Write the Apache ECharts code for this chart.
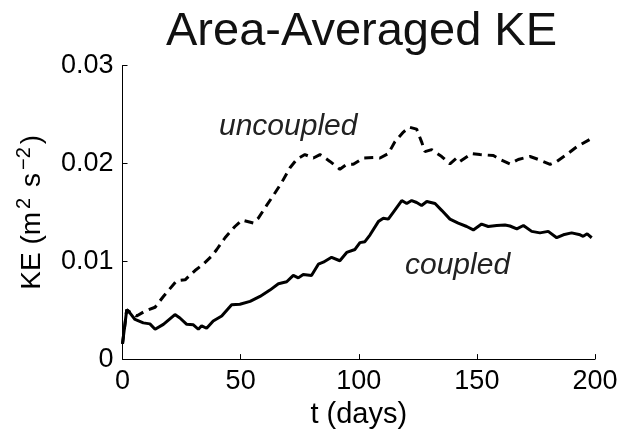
<!DOCTYPE html>
<html>
<head>
<meta charset="utf-8">
<script src="https://cdn.jsdelivr.net/npm/echarts@6/dist/echarts.min.js"></script>
<style>html,body{margin:0;padding:0;background:#fff;}#c{width:625px;height:434px;}</style>
</head>
<body>
<div id="c"></div>
<script>
var titleText = 'Area-Averaged KE';
var xTicks = [0, 50, 100, 150, 200];
var yTicks = [0, 0.01, 0.02, 0.03];
var coupledT = [0, 1.8, 3.2, 5.3, 8.8, 11.6, 13.8, 17.3, 22.2, 24.3, 27.2, 30, 32.1, 33.5, 35.6, 38.4, 42, 46.2, 49.7, 54, 58.2, 62.4, 66, 69.5, 72.3, 74.4, 76.5, 80, 82.9, 85, 88.5, 92, 94.9, 98.4, 100.5, 102.6, 104.8, 108.3, 110.4, 112.5, 114.6, 118.2, 120.3, 122.4, 124.5, 126.6, 128.8, 132.3, 135.1, 138.6, 142.1, 145.7, 148.5, 152, 154.8, 158.4, 161.9, 164, 166.9, 169.7, 173.2, 176.7, 180.2, 183.8, 186.6, 190.1, 193.7, 195, 196.7, 198.6];
var coupledKE = [0.00155, 0.00505, 0.0047, 0.00405, 0.0037, 0.0036, 0.00305, 0.00355, 0.00455, 0.0042, 0.00355, 0.0035, 0.00305, 0.0034, 0.00315, 0.0039, 0.0044, 0.00555, 0.0056, 0.0059, 0.0064, 0.00705, 0.0077, 0.0079, 0.00855, 0.0083, 0.00865, 0.00855, 0.0097, 0.0099, 0.0104, 0.01005, 0.0109, 0.0112, 0.0119, 0.012, 0.0127, 0.01405, 0.0144, 0.0143, 0.015, 0.0162, 0.0159, 0.0162, 0.016, 0.0157, 0.0161, 0.0159, 0.0152, 0.0143, 0.0139, 0.01355, 0.0132, 0.0138, 0.01355, 0.01365, 0.0137, 0.0136, 0.0133, 0.01365, 0.01305, 0.0129, 0.01305, 0.0124, 0.0127, 0.0129, 0.0127, 0.01255, 0.0128, 0.0124];
var uncoupledT = [0, 1.8, 3.2, 6, 9.5, 13.8, 17.3, 20.1, 22.9, 26.5, 30.7, 34.2, 37.8, 39.9, 43.4, 47.6, 50.5, 55.4, 57.5, 61, 63.8, 67.4, 70.9, 73.7, 77.2, 80.8, 83.6, 87.8, 92, 94.9, 97.7, 101.9, 106.9, 109, 112.5, 115.3, 118.9, 121.4, 124.5, 126.6, 128, 130.9, 135.1, 138.6, 141.5, 142.9, 147.8, 151.3, 157, 159.8, 164, 167.5, 172.5, 176, 181, 183.8, 188, 192.3, 198.6];
var uncoupledKE = [0.00155, 0.00505, 0.0048, 0.0044, 0.0049, 0.0053, 0.0064, 0.0072, 0.008, 0.0081, 0.00905, 0.0097, 0.01055, 0.0112, 0.0124, 0.01355, 0.0142, 0.0139, 0.0144, 0.0157, 0.0167, 0.01805, 0.01955, 0.0204, 0.0209, 0.02055, 0.0209, 0.0202, 0.0194, 0.0199, 0.0199, 0.02055, 0.0206, 0.02055, 0.021, 0.0222, 0.0232, 0.0237, 0.0235, 0.0222, 0.0212, 0.0214, 0.0207, 0.01995, 0.02055, 0.0202, 0.021, 0.0209, 0.0208, 0.0204, 0.01995, 0.0204, 0.0207, 0.0204, 0.0199, 0.0202, 0.0209, 0.0217, 0.02255];
var labelUncoupled = 'uncoupled';
var labelCoupled = 'coupled';

function pairs(t, v) { return t.map(function (x, i) { return [x, v[i]]; }); }

var FONT = '"Liberation Sans", Arial, Helvetica, sans-serif';
var chart = echarts.init(document.getElementById('c'), null, {renderer: 'canvas'});
chart.setOption({
  animation: false,
  backgroundColor: '#ffffff',
  title: {
    text: titleText,
    left: 161, top: 4,
    textStyle: {fontFamily: FONT, fontSize: 47, fontWeight: 'normal', color: '#111'}
  },
  grid: {left: 122.5, right: 30, top: 65.5, bottom: 68.5, containLabel: false},
  xAxis: {
    type: 'value', min: xTicks[0], max: xTicks[xTicks.length - 1], interval: 50,
    name: 't (days)', nameLocation: 'middle', nameGap: 32,
    nameTextStyle: {fontFamily: FONT, fontSize: 29, color: '#000'},
    axisLine: {show: true, lineStyle: {color: '#000', width: 1}},
    axisTick: {show: true, inside: true, length: 5, lineStyle: {color: '#000'}},
    axisLabel: {fontFamily: FONT, fontSize: 27, color: '#000', margin: 9},
    splitLine: {show: false}
  },
  yAxis: {
    type: 'value', min: yTicks[0], max: yTicks[yTicks.length - 1], interval: 0.01,
    name: 'KE (m{sup|2} s{sup|−2})', nameLocation: 'middle', nameGap: 73, nameRotate: 90,
    nameTextStyle: {fontFamily: FONT, fontSize: 28, color: '#000',
      rich: {sup: {fontFamily: FONT, fontSize: 20, color: '#000', padding: [0, 3, 15, 3]}}},
    axisLine: {show: true, lineStyle: {color: '#000', width: 1}},
    axisTick: {show: true, inside: true, length: 5, lineStyle: {color: '#000'}},
    axisLabel: {fontFamily: FONT, fontSize: 27, color: '#000', margin: 9,
      formatter: function (v) { return v === 0 ? '0' : (+v.toFixed(2)).toString(); }},
    splitLine: {show: false}
  },
  graphic: [
    {type: 'text', left: 219, top: 112, style: {text: labelUncoupled, font: 'italic 30px ' + FONT, fill: '#222'}},
    {type: 'text', left: 405, top: 251, style: {text: labelCoupled, font: 'italic 30px ' + FONT, fill: '#222'}}
  ],
  series: [
    {type: 'line', name: 'uncoupled', data: pairs(uncoupledT, uncoupledKE), showSymbol: false, smooth: false,
      lineStyle: {color: '#000', width: 3, type: [9, 6], cap: 'butt'}},
    {type: 'line', name: 'coupled', data: pairs(coupledT, coupledKE), showSymbol: false, smooth: false,
      lineStyle: {color: '#000', width: 3, type: 'solid'}}
  ]
});
</script>
</body>
</html>
